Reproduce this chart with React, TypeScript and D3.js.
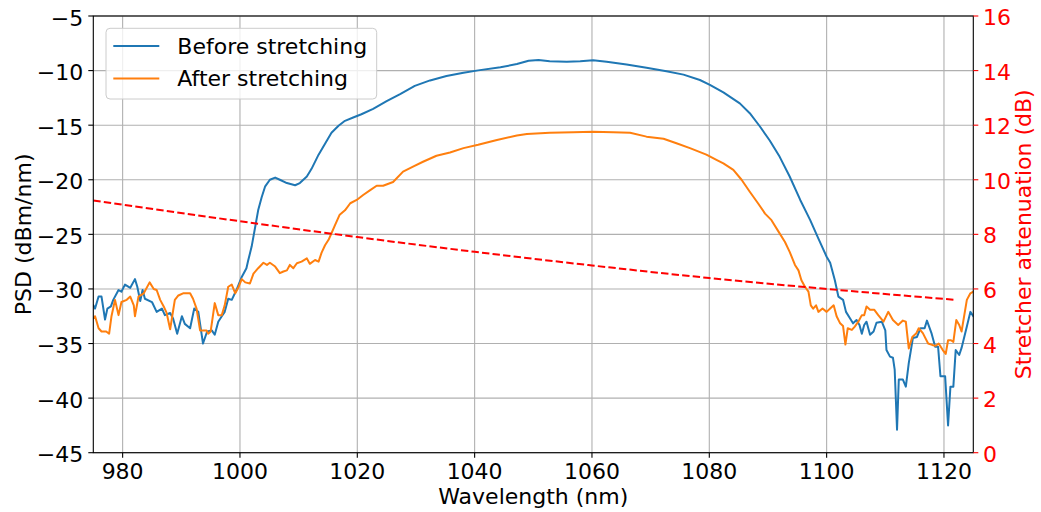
import React from "react";
import * as d3 from "d3";

// PSD before stretching: [wavelength nm, dBm/nm]
const beforeStretching: [number, number][] = [
  [975.0, -31.5], [975.3, -31.8], [975.9, -30.7], [976.4, -30.7], [977.0, -32.8], [977.4, -31.8],
  [978.0, -31.6], [978.4, -31.0], [979.3, -30.1], [979.8, -30.25], [980.4, -29.6], [981.3, -29.9],
  [982.1, -29.1], [982.5, -29.8], [983.0, -31.1], [983.4, -30.1], [983.8, -30.9], [985.0, -31.2],
  [985.8, -32.1], [986.7, -31.8], [987.2, -32.4], [988.1, -32.2], [988.6, -32.7], [989.3, -34.1],
  [990.1, -32.5], [990.6, -33.2], [991.5, -33.6], [992.2, -31.8], [992.9, -32.1], [993.7, -35.0],
  [994.4, -33.9], [995.2, -33.8], [995.7, -34.2], [996.3, -33.0], [996.9, -32.5], [997.4, -32.1],
  [998.0, -30.9], [998.6, -31.0], [999.4, -30.1], [1000.3, -28.9], [1000.6, -28.6], [1001.1, -28.1],
  [1001.4, -27.4], [1002.0, -26.1], [1002.6, -24.3], [1003.1, -22.8], [1003.7, -21.6], [1004.3, -20.6],
  [1005.1, -20.0], [1006.0, -19.8], [1006.8, -20.0], [1008.0, -20.3], [1009.4, -20.5], [1010.2, -20.3],
  [1011.4, -19.7], [1012.2, -19.0], [1013.4, -17.7], [1014.5, -16.7], [1015.6, -15.7], [1016.8, -15.05],
  [1017.9, -14.6], [1019.3, -14.3], [1020.7, -14.0], [1022.7, -13.5], [1025.0, -12.8], [1027.3, -12.15],
  [1029.8, -11.4], [1032.4, -10.9], [1035.2, -10.5], [1038.1, -10.2], [1040.6, -9.98], [1044.4, -9.7],
  [1047.2, -9.4], [1049.2, -9.1], [1050.9, -9.03], [1052.8, -9.15], [1055.7, -9.2], [1058.0, -9.15],
  [1060.2, -9.06], [1062.5, -9.2], [1065.9, -9.45], [1069.3, -9.75], [1072.7, -10.07], [1075.6, -10.37],
  [1078.4, -10.86], [1080.1, -11.3], [1082.4, -12.0], [1085.2, -13.0], [1086.9, -13.9], [1088.6, -15.1],
  [1090.3, -16.4], [1092.0, -17.9], [1093.7, -19.7], [1095.5, -21.85], [1097.2, -23.7], [1098.6, -25.4],
  [1100.0, -27.05], [1100.6, -27.6], [1100.9, -28.2], [1101.4, -29.2], [1102.0, -30.7], [1102.8, -31.0],
  [1103.3, -32.1], [1104.0, -32.7], [1104.5, -33.15], [1105.1, -32.85], [1105.6, -33.3], [1106.0, -34.1],
  [1106.4, -33.3], [1106.8, -33.0], [1107.4, -34.2], [1108.0, -33.9], [1108.5, -33.1], [1109.4, -33.0],
  [1110.0, -33.8], [1110.2, -35.6], [1110.8, -36.2], [1111.3, -36.3], [1111.6, -37.4], [1112.0, -42.9],
  [1112.3, -38.3], [1113.0, -38.3], [1113.5, -38.95], [1114.0, -36.8], [1114.7, -34.5], [1115.4, -34.4],
  [1116.0, -33.6], [1116.7, -33.6], [1117.1, -32.9], [1117.9, -34.1], [1118.5, -35.3], [1119.0, -35.3],
  [1119.4, -38.0], [1120.2, -38.0], [1120.7, -42.5], [1121.1, -38.95], [1121.6, -38.95], [1122.0, -35.6],
  [1122.6, -36.05], [1123.0, -35.4], [1123.9, -33.45], [1124.5, -32.1], [1125.0, -32.5],
];

// PSD after stretching
const afterStretching: [number, number][] = [
  [975.0, -32.7], [975.3, -32.5], [975.9, -33.6], [976.4, -33.9], [977.2, -33.9], [977.7, -34.1],
  [978.1, -32.5], [978.7, -31.0], [979.3, -32.4], [979.8, -31.2], [980.7, -31.0], [981.3, -30.7],
  [981.9, -31.5], [982.1, -32.5], [982.7, -30.7], [983.6, -30.4], [984.6, -29.4], [985.3, -30.0],
  [985.8, -30.1], [986.4, -31.0], [987.0, -31.6], [987.5, -32.2], [988.1, -33.7], [988.6, -32.0],
  [988.9, -31.0], [989.5, -30.6], [990.3, -30.4], [991.5, -30.4], [992.0, -30.9], [992.6, -31.8],
  [993.2, -33.8], [993.7, -33.8], [994.3, -33.8], [994.6, -34.1], [995.0, -33.9], [995.7, -31.3],
  [996.3, -32.4], [996.9, -32.4], [997.4, -31.5], [998.0, -29.8], [998.6, -29.6], [999.2, -30.4],
  [999.7, -29.9], [1000.3, -29.1], [1000.9, -29.4], [1001.7, -29.5], [1002.3, -28.6], [1003.1, -28.1],
  [1004.0, -27.6], [1004.6, -27.8], [1005.1, -27.6], [1006.0, -27.95], [1006.8, -28.55], [1007.4, -28.4],
  [1008.0, -28.3], [1008.5, -27.8], [1009.1, -28.1], [1009.7, -27.65], [1010.5, -27.5], [1011.4, -27.2],
  [1011.9, -27.7], [1012.8, -27.35], [1013.4, -27.5], [1013.9, -26.7], [1014.5, -26.0], [1015.1, -25.5],
  [1015.6, -24.9], [1016.2, -24.15], [1017.0, -23.2], [1017.9, -22.8], [1018.8, -22.15], [1019.9, -21.85],
  [1021.0, -21.4], [1022.2, -20.95], [1023.3, -20.55], [1024.4, -20.55], [1026.1, -20.2], [1027.8, -19.25],
  [1029.5, -18.8], [1031.2, -18.35], [1033.5, -17.8], [1035.8, -17.5], [1038.1, -17.1], [1040.6, -16.8],
  [1043.8, -16.35], [1047.2, -15.95], [1048.9, -15.8], [1052.8, -15.7], [1056.8, -15.65], [1060.2, -15.6],
  [1063.6, -15.65], [1066.5, -15.7], [1069.3, -16.05], [1072.2, -16.25], [1074.4, -16.65], [1076.7, -17.1],
  [1079.5, -17.7], [1081.3, -18.2], [1082.4, -18.5], [1084.1, -19.1], [1085.5, -20.0], [1086.9, -21.1],
  [1088.3, -22.15], [1089.5, -23.1], [1090.6, -23.7], [1091.8, -24.75], [1092.9, -25.7], [1093.7, -26.6],
  [1094.6, -27.8], [1095.2, -28.3], [1095.7, -29.2], [1096.3, -29.8], [1096.9, -30.25], [1097.3, -31.5],
  [1097.7, -31.8], [1098.2, -31.5], [1098.6, -32.1], [1099.3, -31.8], [1100.0, -32.1], [1100.6, -31.8],
  [1101.2, -31.5], [1101.7, -32.5], [1102.3, -33.15], [1102.8, -33.4], [1103.2, -35.1], [1103.6, -33.6],
  [1104.3, -33.75], [1104.8, -33.45], [1105.4, -33.0], [1106.0, -32.4], [1106.4, -32.4], [1106.8, -31.6],
  [1107.4, -31.9], [1108.1, -31.9], [1108.8, -32.4], [1109.7, -33.0], [1110.5, -32.1], [1111.3, -32.85],
  [1112.2, -33.3], [1113.0, -32.9], [1113.5, -33.0], [1114.0, -35.45], [1114.6, -34.4], [1115.3, -34.05],
  [1115.7, -33.6], [1116.4, -34.05], [1117.3, -35.0], [1118.1, -35.15], [1118.6, -35.2], [1119.1, -35.0],
  [1119.8, -35.6], [1120.3, -35.95], [1120.7, -34.7], [1121.2, -34.7], [1121.6, -34.85], [1122.1, -32.85],
  [1122.6, -33.3], [1123.0, -33.9], [1123.9, -31.0], [1124.5, -30.4], [1125.0, -30.25],
];

// stretcher attenuation (dB), right axis
const stretcherAttenuation: [number, number][] = [
  [975, 9.24], [1000, 8.48], [1020, 7.9], [1040, 7.36], [1060, 6.86], [1080, 6.4], [1100, 6.0], [1122, 5.6],
];

const xTicks = [980, 1000, 1020, 1040, 1060, 1080, 1100, 1120];
const psdTicks = [-45, -40, -35, -30, -25, -20, -15, -10, -5];
const attTicks = [0, 2, 4, 6, 8, 10, 12, 14, 16];
const legendItems = [
  { label: "Before stretching", color: "#1f77b4" },
  { label: "After stretching", color: "#ff7f0e" },
];

const W = 1041;
const H = 512;
const plot = { left: 93.3, right: 973.3, top: 16, bottom: 452.7 };
const FONT = "'DejaVu Sans', sans-serif";
const FS = 22;

const minus = (v: number) => String(v).replace("-", "\u2212");

export default function App() {
  const x = d3.scaleLinear().domain([975, 1125]).range([plot.left, plot.right]);
  const y = d3.scaleLinear().domain([-45, -5]).range([plot.bottom, plot.top]);
  const y2 = d3.scaleLinear().domain([0, 16]).range([plot.bottom, plot.top]);

  const psdLine = d3.line<[number, number]>().x(d => x(d[0])).y(d => y(d[1]));
  const attLine = d3
    .line<[number, number]>()
    .x(d => x(d[0]))
    .y(d => y2(d[1]))
    .curve(d3.curveMonotoneX);

  const grid = "#b0b0b0";

  return (
    <svg
      width={W}
      height={H}
      style={{ position: "absolute", left: 0, top: 0, background: "#fff" }}
      fontFamily={FONT}
    >
      <defs>
        <clipPath id="plotClip">
          <rect x={plot.left} y={plot.top} width={plot.right - plot.left} height={plot.bottom - plot.top} />
        </clipPath>
      </defs>

      {/* grid */}
      {xTicks.map(t => (
        <line key={"gx" + t} x1={x(t)} x2={x(t)} y1={plot.top} y2={plot.bottom} stroke={grid} strokeWidth={1.1} />
      ))}
      {psdTicks.map(t => (
        <line key={"gy" + t} x1={plot.left} x2={plot.right} y1={y(t)} y2={y(t)} stroke={grid} strokeWidth={1.1} />
      ))}

      {/* spectra */}
      <g clipPath="url(#plotClip)" fill="none" strokeLinejoin="round" strokeLinecap="square">
        <path d={psdLine(beforeStretching) || ""} stroke="#1f77b4" strokeWidth={2} />
        <path d={psdLine(afterStretching) || ""} stroke="#ff7f0e" strokeWidth={2} />
      </g>

      {/* legend */}
      <rect x={106} y={28.3} width={270.7} height={70.7} rx={4} fill="#fff" fillOpacity={0.8} stroke="#cccccc" strokeWidth={1} />
      {legendItems.map((it, i) => (
        <g key={it.label}>
          <line x1={113.3} x2={159.3} y1={46 + i * 32.4} y2={46 + i * 32.4} stroke={it.color} strokeWidth={2} />
          <text x={177.3} y={53.5 + i * 32.4} fontSize={FS} fill="#000">{it.label}</text>
        </g>
      ))}

      {/* stretcher attenuation */}
      <path
        d={attLine(stretcherAttenuation) || ""}
        fill="none"
        stroke="#ff0000"
        strokeWidth={2}
        strokeDasharray="7.4,3.2"
        clipPath="url(#plotClip)"
      />

      {/* frame */}
      <rect x={plot.left} y={plot.top} width={plot.right - plot.left} height={plot.bottom - plot.top} fill="none" stroke="#000" strokeWidth={1.1} />

      {/* x axis */}
      {xTicks.map(t => (
        <g key={"xt" + t}>
          <line x1={x(t)} x2={x(t)} y1={plot.bottom} y2={plot.bottom + 5} stroke="#000" strokeWidth={1.1} />
          <text x={x(t)} y={478.5} textAnchor="middle" fontSize={FS}>{t}</text>
        </g>
      ))}
      <text x={(plot.left + plot.right) / 2} y={503.5} textAnchor="middle" fontSize={FS}>Wavelength (nm)</text>

      {/* left axis */}
      {psdTicks.map(t => (
        <g key={"yt" + t}>
          <line x1={plot.left - 5} x2={plot.left} y1={y(t)} y2={y(t)} stroke="#000" strokeWidth={1.1} />
          <text x={83.3} y={y(t) + 9.5} textAnchor="end" fontSize={FS}>{minus(t)}</text>
        </g>
      ))}
      <text
        transform={`translate(30.5, ${(plot.top + plot.bottom) / 2}) rotate(-90)`}
        textAnchor="middle"
        fontSize={FS}
      >
        PSD (dBm/nm)
      </text>

      {/* right axis */}
      {attTicks.map(t => (
        <g key={"rt" + t}>
          <line x1={plot.right} x2={plot.right + 5} y1={y2(t)} y2={y2(t)} stroke="#ff0000" strokeWidth={1.1} />
          <text x={983} y={y2(t) + 9} textAnchor="start" fontSize={FS} fill="#ff0000">{t}</text>
        </g>
      ))}
      <text
        transform={`translate(1031, ${(plot.top + plot.bottom) / 2}) rotate(-90)`}
        textAnchor="middle"
        fontSize={FS}
        fill="#ff0000"
      >
        Stretcher attenuation (dB)
      </text>
    </svg>
  );
}
